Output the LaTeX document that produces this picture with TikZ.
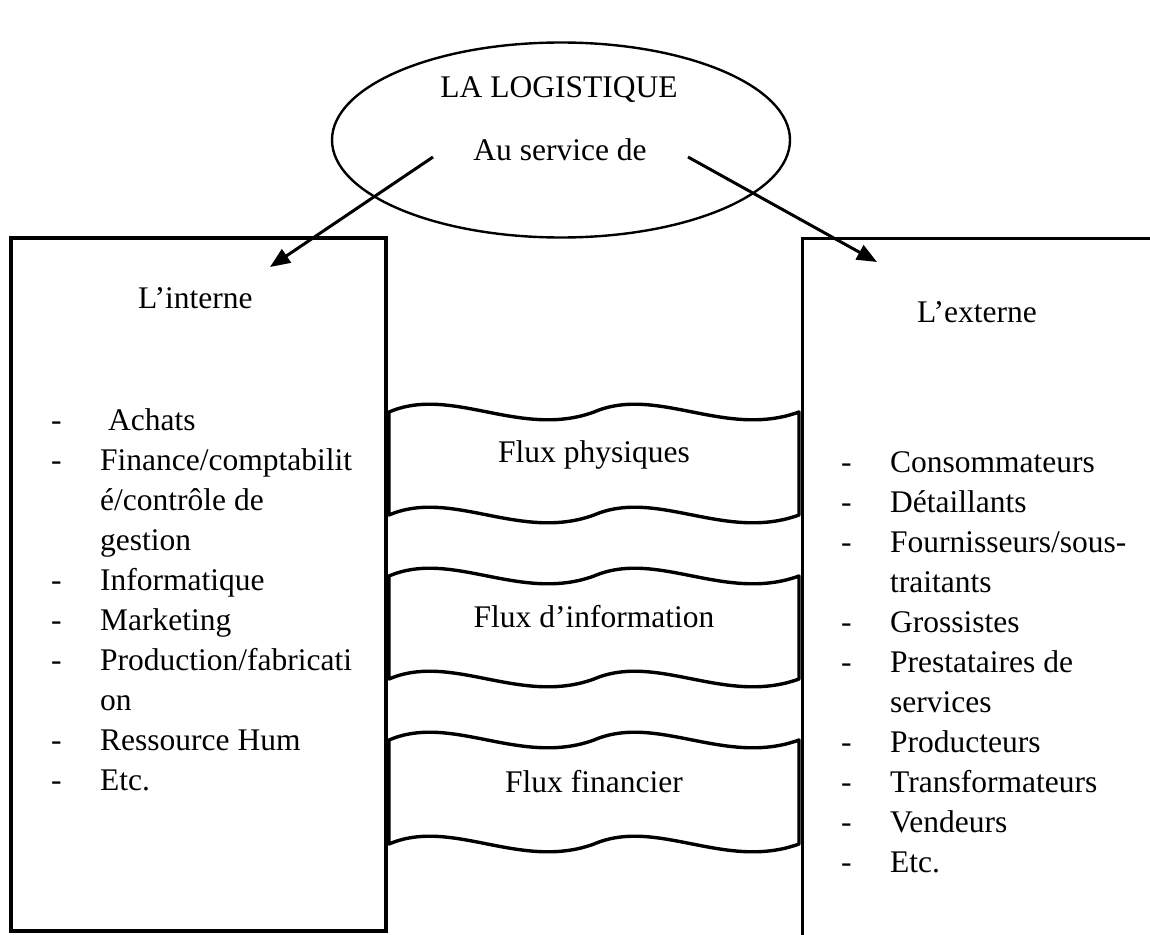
\documentclass[tikz,border=0pt]{standalone}
\usepackage{fontspec}
\setmainfont{Liberation Serif}
\usetikzlibrary{shapes.geometric,arrows.meta}
\begin{document}
\begin{tikzpicture}[x=1pt,y=-1pt,
  txt/.style={inner sep=0pt, anchor=base west, font=\fontsize{31.5}{40}\selectfont},
  ctxt/.style={txt, anchor=base},
  frame/.style={line width=3.8pt},
  wave/.style={line width=3.4pt, line join=round},
  link/.style={line width=3pt, -{Triangle[length=20pt,width=16pt]}},
]
\useasboundingbox (0,0) rectangle (1150,934);

% left box (internal services)
\node[draw, frame, minimum width=375pt, minimum height=693pt, inner sep=0pt] (interne) at (198.5,584.5) {};
% right box (external partners), open to the right and below
\coordinate (extTL) at (802.5,238.5);
\coordinate (extTR) at (1153,238.5);
\coordinate (extBL) at (802.5,937);
\draw[frame] (extTR) -- (extTL) -- (extBL);

% the three flows between the boxes
\foreach \yt/\yb/\yl/\lab/\nm in {412/515/462/{Flux physiques}/fphys,
                                  576/679/627/{Flux d’information}/finfo,
                                  740/844/792/{Flux financier}/ffin}{
  \draw[wave] (389,\yt) .. controls (452,\yt-27) and (520,\yt+27) .. (594,\yt)
      .. controls (657,\yt-27) and (725,\yt+27) .. (799,\yt) -- (799,\yb)
      .. controls (725,\yb+27) and (657,\yb-27) .. (594,\yb)
      .. controls (520,\yb+27) and (452,\yb-27) .. (389,\yb) -- cycle;
  \node[ctxt] (\nm) at (594,\yl) {\lab};
}

% central ellipse
\node[ellipse, draw, line width=2.4pt, minimum width=458pt, minimum height=195pt, inner sep=0pt] (logi) at (561,140) {};
\node[ctxt] (titre) at (559,97) {LA LOGISTIQUE};
\node[ctxt] (service) at (560,160) {Au service de};

% arrows towards both sides
\coordinate (fromL) at (433,157);
\coordinate (toL) at (270,267);
\coordinate (fromR) at (688,157);
\coordinate (toR) at (877,262);
\draw[link] (fromL) -- (toL);
\draw[link] (fromR) -- (toR);

% headings
\node[txt] (hint) at (138,308) {L’interne};
\node[txt] (hext) at (917,322) {L’externe};

% internal list
\node[txt] (dl1) at (51,430) {-};  \node[txt] (il1) at (108,430) {Achats};
\node[txt] (dl2) at (51,470) {-};  \node[txt] (il2) at (100,470) {Finance/comptabilit};
                                   \node[txt] (il3) at (100,510) {é/contrôle de};
                                   \node[txt] (il4) at (100,550) {gestion};
\node[txt] (dl5) at (51,590) {-};  \node[txt] (il5) at (100,590) {Informatique};
\node[txt] (dl6) at (51,630) {-};  \node[txt] (il6) at (100,630) {Marketing};
\node[txt] (dl7) at (51,670) {-};  \node[txt] (il7) at (100,670) {Production/fabricati};
                                   \node[txt] (il8) at (100,710) {on};
\node[txt] (dl9) at (51,750) {-};  \node[txt] (il9) at (100,750) {Ressource Hum};
\node[txt] (dl10) at (51,790) {-}; \node[txt] (il10) at (100,790) {Etc.};

% external list
\node[txt] (de1) at (841,472) {-};  \node[txt] (el1) at (890,472) {Consommateurs};
\node[txt] (de2) at (841,512) {-};  \node[txt] (el2) at (890,512) {Détaillants};
\node[txt] (de3) at (841,552) {-};  \node[txt] (el3) at (890,552) {Fournisseurs/sous-};
                                    \node[txt] (el4) at (890,592) {traitants};
\node[txt] (de5) at (841,632) {-};  \node[txt] (el5) at (890,632) {Grossistes};
\node[txt] (de6) at (841,672) {-};  \node[txt] (el6) at (890,672) {Prestataires de};
                                    \node[txt] (el7) at (890,712) {services};
\node[txt] (de8) at (841,752) {-};  \node[txt] (el8) at (890,752) {Producteurs};
\node[txt] (de9) at (841,792) {-};  \node[txt] (el9) at (890,792) {Transformateurs};
\node[txt] (de10) at (841,832) {-}; \node[txt] (el10) at (890,832) {Vendeurs};
\node[txt] (de11) at (841,872) {-}; \node[txt] (el11) at (890,872) {Etc.};
\end{tikzpicture}
\end{document}
